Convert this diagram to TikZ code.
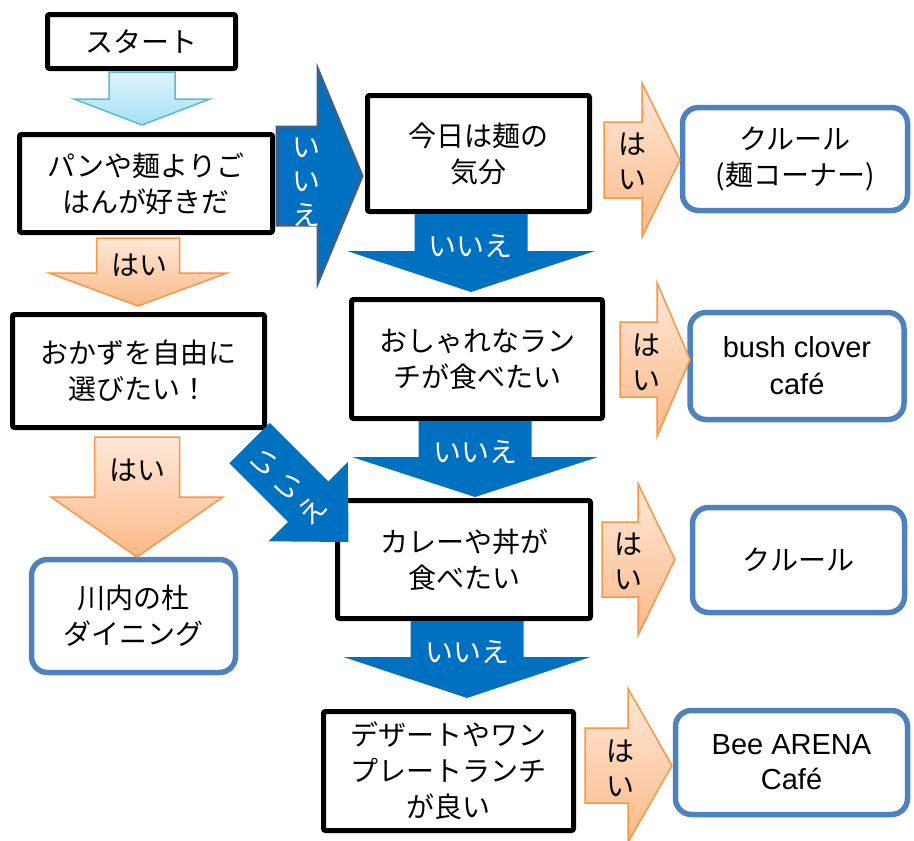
\documentclass[tikz,border=0pt]{standalone}
\usepackage{fontspec}
\setmainfont{Noto Sans CJK JP}
\newfontfamily\latfont{Liberation Sans}
\definecolor{myblue}{HTML}{0070C0}
\definecolor{bigborder}{HTML}{3B5F8E}
\definecolor{rbc}{HTML}{4F81BD}
\definecolor{orTop}{HTML}{FFE8D8}
\definecolor{orBot}{HTML}{FAB987}
\definecolor{orLine}{HTML}{F79646}
\definecolor{lbTop}{HTML}{DDF4FC}
\definecolor{lbBot}{HTML}{A6E1F5}
\definecolor{lbLine}{HTML}{5DBAD6}
% down block arrow: style, cx, y0, shaft half width, head y, head half width, tip y
\newcommand\shapeD[7]{\path[#1] ({#2-#4},#3) -- ({#2+#4},#3) -- ({#2+#4},#5) -- ({#2+#6},#5) -- (#2,#7) -- ({#2-#6},#5) -- ({#2-#4},#5) -- cycle;}
% right block arrow: style, cy, x0, shaft half height, head x, head half height, tip x
\newcommand\shapeR[7]{\path[#1] (#3,{#2-#4}) -- (#5,{#2-#4}) -- (#5,{#2-#6}) -- (#7,#2) -- (#5,{#2+#6}) -- (#5,{#2+#4}) -- (#3,{#2+#4}) -- cycle;}
\begin{document}
\begin{tikzpicture}[x=1pt,y=-1pt,
  bbox/.style={draw=black, line width=5pt, rounded corners=2pt, fill=white, align=center,
    font=\fontsize{28}{36}\selectfont, inner sep=0pt},
  rbox/.style={draw=rbc, line width=5.5pt, rounded corners=16pt, fill=white, align=center,
    font=\fontsize{28}{36}\selectfont, inner sep=0pt},
  blueA/.style={fill=myblue},
  bigA/.style={fill=myblue, draw=bigborder, line width=3pt, line join=miter},
  orA/.style={top color=orTop, bottom color=orBot, draw=orLine, line width=1.5pt, line join=miter},
  lbA/.style={top color=lbTop, bottom color=lbBot, draw=lbLine, line width=1.5pt, line join=miter},
  ylab/.style={align=center, font=\fontsize{28}{35}\selectfont, inner sep=0pt},
  nlab/.style={align=center, text=white, font=\fontsize{28}{34}\selectfont, inner sep=0pt}
]
\useasboundingbox[fill=white] (0,0) rectangle (914,841);

% boxes
\node[bbox, minimum width=188pt, minimum height=54pt] (b1) at (141.5,41.5) {スタート};
\node[bbox, minimum width=253pt, minimum height=98pt] (b2) at (146,183.5) {パンや麺よりご\\はんが好きだ};
\node[bbox, minimum width=252pt, minimum height=113pt] (b3) at (138.5,371) {おかずを自由に\\選びたい！};
\node[bbox, minimum width=222pt, minimum height=116pt] (b4) at (478.5,153.5) {今日は麺の\\気分};
\node[bbox, minimum width=251pt, minimum height=119pt] (b5) at (477,359) {おしゃれなラン\\チが食べたい};
\node[bbox, minimum width=253pt, minimum height=118pt] (b6) at (464,559.5) {カレーや丼が\\食べたい};
\node[bbox, minimum width=250pt, minimum height=119pt] (b7) at (448.5,771) {デザートやワン\\プレートランチ\\が良い};

\node[rbox, minimum width=225pt, minimum height=103pt] (r1) at (795,159) {クルール\\(麺コーナー)};
\node[rbox, minimum width=214pt, minimum height=107pt, font=\latfont\fontsize{29}{37}\selectfont] (r2) at (797,366) {bush clover\\café};
\node[rbox, minimum width=212pt, minimum height=105pt] (r3) at (798.5,560) {クルール};
\node[rbox, minimum width=232pt, minimum height=104pt, font=\latfont\fontsize{29}{35}\selectfont] (r4) at (791.5,762.5) {Bee ARENA\\Café};
\node[rbox, minimum width=204pt, minimum height=113pt] (r5) at (133.5,616) {川内の杜\\ダイニング};

% block arrows
\shapeD{lbA}{142}{72}{33}{99}{68}{125}
\shapeD{orA}{138}{238}{41.5}{273}{89}{306}
\shapeD{orA}{137}{437}{42.5}{497}{86}{557}
\shapeD{blueA}{471}{214}{56.5}{251}{124}{292}
\shapeD{blueA}{475}{421}{56.5}{457}{123}{497}
\shapeD{blueA}{467}{621}{56.5}{657}{123.5}{698}
\shapeR{bigA}{176}{277}{49}{318}{106}{362}
\shapeR{orA}{160}{604}{38}{642}{77}{680}
\shapeR{orA}{359.5}{620}{37.5}{657}{77}{690}
\shapeR{orA}{559.5}{602}{37.5}{638}{76}{675}
\shapeR{orA}{765.5}{585}{37.5}{628}{77}{672}
\path[blueA] (229.3,463.2) -- (269.7,422.8) -- (328.4,481.5) -- (347.8,462.1) -- (348.5,542)
  -- (268.6,541.3) -- (288.1,521.9) -- cycle;

% labels on arrows
\node[ylab] (y1) at (139,265) {はい};
\node[ylab] (y2) at (137,470) {はい};
\node[ylab] (y3) at (632,161) {は\\い};
\node[ylab] (y4) at (646,362) {は\\い};
\node[ylab] (y5) at (628,561) {は\\い};
\node[ylab] (y6) at (620,768) {は\\い};
\node[nlab] (n1) at (470,246) {いいえ};
\node[nlab] (n2) at (475,452) {いいえ};
\node[nlab] (n3) at (467,652) {いいえ};
\node[nlab] (n4) at (306,182) {い\\い\\え};
\node[nlab, rotate=45] (n5) at (289,487) {い\\い\\え};
\end{tikzpicture}
\end{document}
